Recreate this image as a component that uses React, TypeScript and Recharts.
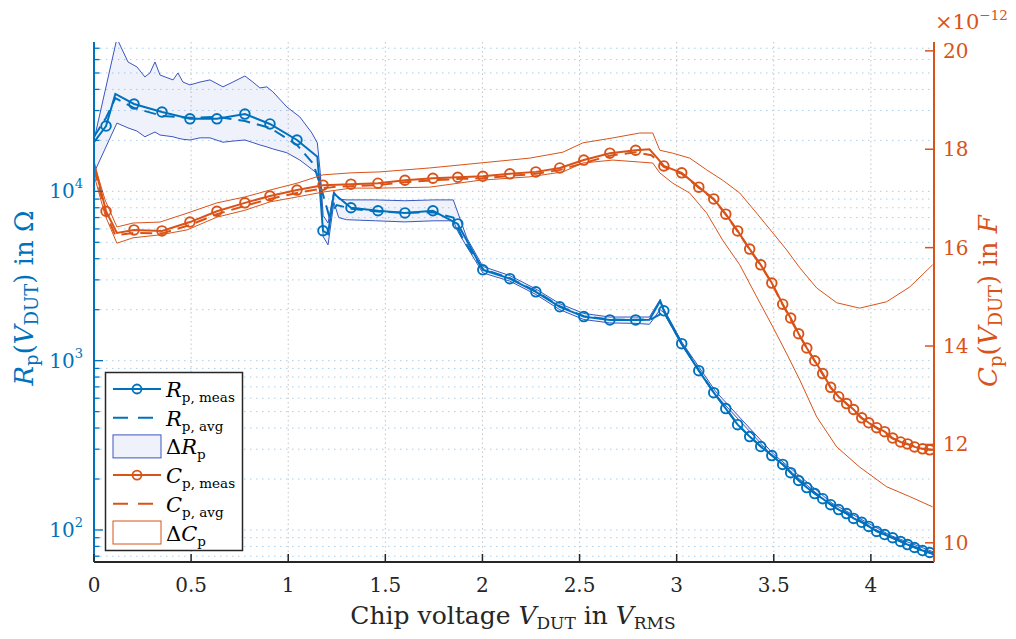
import { ComposedChart, Line, Area, XAxis, YAxis, CartesianGrid } from "recharts"

const BLUE = "#0072BD"
const ORANGE = "#D95319"
const BAND_BLUE = "#3a56c0"
const DARK = "#262626"
const FONT = "'DejaVu Serif', serif"

// axis ranges (x in V_RMS, Rp in ohm, Cp in pF)
const X_DOMAIN = [0, 4.325]
const RP_DOMAIN = [64.7, 76200]
const CP_DOMAIN = [9.61, 20.18]

const xTicks = [0, 0.5, 1, 1.5, 2, 2.5, 3, 3.5, 4]
const rpTicks = [
  70, 80, 90,
  100, 200, 300, 400, 500, 600, 700, 800, 900,
  1000, 2000, 3000, 4000, 5000, 6000, 7000, 8000, 9000,
  10000, 20000, 30000, 40000, 50000, 60000, 70000,
]
const cpTicks = [10, 12, 14, 16, 18, 20]

// measured points (markers)
const vMeas = [
  0.062, 0.206, 0.35, 0.494, 0.633, 0.777, 0.906, 1.045, 1.179, 1.323,
  1.462, 1.601, 1.745, 1.873, 2.002, 2.141, 2.275, 2.398, 2.522, 2.656,
  2.789, 2.934, 3.026, 3.114, 3.191, 3.253, 3.314, 3.376, 3.433, 3.49,
  3.546, 3.587, 3.628, 3.67, 3.711, 3.752, 3.793, 3.834, 3.875, 3.911,
  3.953, 3.989, 4.03, 4.071, 4.112, 4.153, 4.189, 4.225, 4.266, 4.303,
]
const rpMeas = [
  24300, 32800, 29400, 26800, 26800, 28600, 25000, 20100, 5850, 8000,
  7680, 7460, 7680, 6420, 3440, 3050, 2550, 2080, 1820, 1740,
  1740, 1970, 1260, 873, 647, 521, 419, 356, 311, 275,
  244, 218, 196, 178, 164, 153, 141, 132, 125, 117,
  111, 105, 98, 94, 90, 85.5, 82, 78.8, 75.6, 73.6,
]
const cpMeas = [
  16.74, 16.36, 16.34, 16.52, 16.74, 16.91, 17.05, 17.17, 17.27, 17.29,
  17.31, 17.37, 17.41, 17.43, 17.45, 17.5, 17.54, 17.62, 17.78, 17.92,
  17.98, 17.66, 17.52, 17.23, 16.99, 16.68, 16.34, 15.97, 15.65, 15.28,
  14.85, 14.57, 14.25, 13.96, 13.7, 13.44, 13.16, 12.97, 12.83, 12.71,
  12.54, 12.44, 12.34, 12.26, 12.13, 12.05, 12.01, 11.95, 11.91, 11.89,
]

// extra trace samples between markers
const rpTraceV = [0, 0.11, 1.15, 1.205, 1.235, 2.86, 2.915, 4.325]
const rpTrace = [19500, 37600, 16000, 5600, 9700, 1745, 2250, 72.5]
const cpTraceV = [0, 0.118, 2.86, 2.905, 4.325]
const cpTrace = [17.72, 16.3, 18.0, 17.8, 11.89]

// moving average
const vAvg = [
  0, 0.062, 0.11, 0.206, 0.35, 0.494, 0.633, 0.777, 0.906, 1.045,
  1.13, 1.18, 1.21, 1.25, 1.323, 1.462, 1.601, 1.745, 1.85, 1.9,
  2.002, 2.141, 2.275, 2.398, 2.522, 2.656, 2.789, 2.87, 2.934, 3.026,
  3.114, 3.191, 3.253, 3.314, 3.376, 3.433, 3.49, 3.546, 3.628, 3.711,
  3.793, 3.875, 3.953, 4.03, 4.112, 4.189, 4.266, 4.325,
]
const rpAvg = [
  21000, 27200, 35500, 31100, 27900, 27200, 27500, 26000, 23700, 18800,
  14500, 9500, 7200, 8300, 7900, 7600, 7480, 7520, 7000, 5200,
  3480, 3070, 2570, 2100, 1830, 1750, 1745, 1760, 1930, 1270,
  878, 650, 523, 421, 357, 312, 276, 245, 197, 165,
  142, 126, 112, 99, 90.5, 82.5, 76, 72.5,
]
const cpAvg = [
  17.6, 16.68, 16.25, 16.3, 16.29, 16.46, 16.68, 16.85, 16.99, 17.11,
  17.17, 17.21, 17.22, 17.24, 17.25, 17.27, 17.33, 17.37, 17.39, 17.4,
  17.41, 17.46, 17.5, 17.58, 17.72, 17.87, 17.94, 17.88, 17.64, 17.5,
  17.22, 16.98, 16.67, 16.33, 15.96, 15.64, 15.27, 14.84, 14.24, 13.69,
  13.15, 12.82, 12.53, 12.33, 12.12, 12.0, 11.91, 11.89,
]

// spread of Rp
const vRpBand = [
  0, 0.118, 0.175, 0.221, 0.262, 0.288, 0.314, 0.34, 0.407, 0.432,
  0.458, 0.494, 0.546, 0.597, 0.664, 0.715, 0.777, 0.818, 0.854, 0.89,
  0.921, 0.993, 1.06, 1.122, 1.15, 1.165, 1.18, 1.205, 1.235, 1.26,
  1.3, 1.45, 1.6, 1.75, 1.85, 1.873, 1.92, 2.002, 2.141, 2.275,
  2.398, 2.522, 2.656, 2.789, 2.86, 2.915, 2.934, 3.026, 3.2, 3.5,
  3.8, 4.1, 4.325,
]
const rpLow = [
  12850, 25300, 23700, 22700, 21000, 21700, 22400, 21500, 21000, 20600,
  20300, 20100, 20700, 20700, 19500, 19800, 20100, 19400, 18800, 18300,
  17800, 16900, 15300, 13500, 12700, 12600, 5400, 4830, 8600, 7000,
  6800, 6700, 6600, 6700, 6700, 5800, 4700, 3300, 2950, 2460,
  2000, 1750, 1670, 1660, 1640, 2000, 1920, 1230, 630, 268,
  138, 90, 71,
]
const rpHigh = [
  20100, 80000, 58100, 54300, 47400, 50000, 58100, 48600, 45500, 50000,
  44200, 42500, 44200, 45500, 41400, 44200, 48000, 44200, 40800, 41400,
  38700, 31500, 27500, 22100, 19300, 12900, 7200, 6500, 10000, 9000,
  8900, 8900, 8800, 8900, 8900, 7500, 5300, 3600, 3180, 2650,
  2170, 1900, 1810, 1810, 1810, 2300, 2020, 1290, 660, 280,
  144, 93, 74,
]

// spread of Cp
const vCpBand = [
  0, 0.057, 0.118, 0.201, 0.34, 0.479, 0.633, 0.777, 0.906, 1.045,
  1.179, 1.323, 1.472, 1.729, 1.987, 2.244, 2.414, 2.517, 2.671, 2.81,
  2.877, 2.913, 2.98, 3.067, 3.155, 3.237, 3.325, 3.412, 3.495, 3.567,
  3.634, 3.721, 3.824, 3.942, 4.081, 4.2, 4.318,
]
const cpHigh = [
  17.72, 16.97, 16.42, 16.5, 16.52, 16.7, 16.91, 17.03, 17.17, 17.31,
  17.48, 17.52, 17.54, 17.62, 17.72, 17.82, 17.94, 18.13, 18.23, 18.33,
  18.33, 17.98, 17.92, 17.82, 17.58, 17.37, 17.11, 16.7, 16.3, 15.95,
  15.59, 15.18, 14.88, 14.77, 14.9, 15.2, 15.65,
]
const cpLow = [
  17.48, 16.66, 16.09, 16.2, 16.26, 16.36, 16.62, 16.76, 16.93, 17.03,
  17.13, 17.21, 17.21, 17.23, 17.37, 17.44, 17.54, 17.72, 17.78, 17.74,
  17.72, 17.52, 17.31, 17.11, 16.7, 16.15, 15.65, 15.0, 14.39, 13.84,
  13.31, 12.56, 11.95, 11.54, 11.14, 10.94, 10.73,
]

const byV = (a: { v: number }, b: { v: number }) => a.v - b.v

const markerRows = vMeas.map((v, i) => ({ v, rp: rpMeas[i], cp: cpMeas[i] }))
const rpLineRows = [
  ...vMeas.map((v, i) => ({ v, rp: rpMeas[i] })),
  ...rpTraceV.map((v, i) => ({ v, rp: rpTrace[i] })),
].sort(byV)
const cpLineRows = [
  ...vMeas.map((v, i) => ({ v, cp: cpMeas[i] })),
  ...cpTraceV.map((v, i) => ({ v, cp: cpTrace[i] })),
].sort(byV)
const avgRows = vAvg.map((v, i) => ({ v, rp: rpAvg[i], cp: cpAvg[i] }))
const rpBandRows = vRpBand.map((v, i) => ({ v, range: [rpLow[i], rpHigh[i]] }))
const cpBandRows = vCpBand.map((v, i) => ({ v, lo: cpLow[i], hi: cpHigh[i] }))

const BottomTick = ({ x, y, payload }: any) => (
  <g>
    <line x1={x} x2={x} y1={y} y2={y - 8} stroke={DARK} strokeWidth={1.5} />
    <text x={x} y={y + 30} textAnchor="middle" fontFamily={FONT} fontSize={20} fill={DARK}>
      {String(payload.value)}
    </text>
  </g>
)

const TopTick = ({ x, y }: any) => (
  <line x1={x} x2={x} y1={y} y2={y + 8} stroke={DARK} strokeWidth={1.5} />
)

const RpTick = ({ x, y, payload }: any) => {
  const e = Math.log10(payload.value)
  const major = Math.abs(e - Math.round(e)) < 1e-6
  return (
    <g>
      <line x1={x} x2={x + (major ? 9 : 5.5)} y1={y} y2={y} stroke={BLUE} strokeWidth={1.3} />
      {major && (
        <text x={x - 11} y={y + 7} textAnchor="end" fontFamily={FONT} fontSize={20} fill={BLUE}>
          10<tspan fontSize={13} dy={-10}>{Math.round(e)}</tspan>
        </text>
      )}
    </g>
  )
}

const CpTick = ({ x, y, payload }: any) => (
  <g>
    <line x1={x} x2={x - 9} y1={y} y2={y} stroke={ORANGE} strokeWidth={1.5} />
    <text x={x + 9} y={y + 7} fontFamily={FONT} fontSize={20} fill={ORANGE}>
      {payload.value}
    </text>
  </g>
)

function Titles() {
  return (
    <g fontFamily={FONT}>
      <text x={505} y={616} textAnchor="middle" fontSize={25} fill={DARK}>
        {"Chip voltage "}
        <tspan fontStyle="italic">V</tspan>
        <tspan fontSize={17} dy={5}>DUT</tspan>
        <tspan dy={-5}>{" in "}</tspan>
        <tspan fontStyle="italic">V</tspan>
        <tspan fontSize={17} dy={5}>RMS</tspan>
      </text>
      <text x={25} y={290} transform="rotate(-90 25 290)" textAnchor="middle" fontSize={26} fill={BLUE}>
        <tspan fontStyle="italic">R</tspan>
        <tspan fontSize={18} dy={5}>p</tspan>
        <tspan dy={-5}>(</tspan>
        <tspan fontStyle="italic">V</tspan>
        <tspan fontSize={18} dy={5}>DUT</tspan>
        <tspan dy={-5}>{") in Ω"}</tspan>
      </text>
      <text x={989} y={293} transform="rotate(-90 989 293)" textAnchor="middle" fontSize={26} fill={ORANGE}>
        <tspan fontStyle="italic">C</tspan>
        <tspan fontSize={18} dy={5}>p</tspan>
        <tspan dy={-5}>(</tspan>
        <tspan fontStyle="italic">V</tspan>
        <tspan fontSize={18} dy={5}>DUT</tspan>
        <tspan dy={-5}>{") in "}</tspan>
        <tspan fontStyle="italic">F</tspan>
      </text>
      <text x={927} y={21} fontSize={21} fill={ORANGE}>
        ×10<tspan fontSize={13.5} dy={-9}>−12</tspan>
      </text>
    </g>
  )
}

function LegendBox() {
  const row = (i: number) => 381 + i * 28.7
  const label = (i: number, pre: string, sym: string, sub: string) => (
    <text x={158} y={row(i) + 8} fontSize={21} fill="#000">
      {pre}
      <tspan fontStyle="italic">{sym}</tspan>
      <tspan fontSize={13.5} dy={5}>{sub}</tspan>
    </text>
  )
  return (
    <g fontFamily={FONT}>
      <rect x={97.5} y={364.5} width={137} height={178} fill="#fff" stroke={DARK} strokeWidth={1.5} />
      <line x1={105} x2={153} y1={row(0)} y2={row(0)} stroke={BLUE} strokeWidth={2} />
      <circle cx={129} cy={row(0)} r={4.5} fill="none" stroke={BLUE} strokeWidth={1.8} />
      {label(0, "", "R", "p, meas")}
      <line x1={105} x2={153} y1={row(1)} y2={row(1)} stroke={BLUE} strokeWidth={2} strokeDasharray="15 10" />
      {label(1, "", "R", "p, avg")}
      <rect x={105} y={row(2) - 11.5} width={48} height={23} fill="#f0f2fb" stroke={BAND_BLUE} strokeWidth={1} />
      {label(2, "Δ", "R", "p")}
      <line x1={105} x2={153} y1={row(3)} y2={row(3)} stroke={ORANGE} strokeWidth={2} />
      <circle cx={129} cy={row(3)} r={4.5} fill="none" stroke={ORANGE} strokeWidth={1.8} />
      {label(3, "", "C", "p, meas")}
      <line x1={105} x2={153} y1={row(4)} y2={row(4)} stroke={ORANGE} strokeWidth={2} strokeDasharray="15 10" />
      {label(4, "", "C", "p, avg")}
      <rect x={105} y={row(5) - 11.5} width={48} height={23} fill="#fff" stroke={ORANGE} strokeWidth={1} />
      {label(5, "Δ", "C", "p")}
    </g>
  )
}

export default function App() {
  return (
    <div style={{ position: "relative", width: 1000, height: 625 }}>
      <ComposedChart width={1000} height={625} margin={{ top: 34, right: 0, bottom: 0, left: 0 }}>
        <CartesianGrid
          yAxisId="rp"
          vertical={false}
          horizontalValues={rpTicks}
          stroke="#a9cfe9"
          strokeDasharray="1.5 4.5"
          fill="none"
        />
        <CartesianGrid
          yAxisId="rp"
          horizontal={false}
          verticalValues={xTicks}
          stroke="#c4c4c4"
          strokeDasharray="1.5 3"
          fill="none"
        />
        <XAxis
          dataKey="v"
          type="number"
          domain={X_DOMAIN}
          allowDataOverflow
          ticks={xTicks}
          interval={0}
          height={71}
          tickSize={0}
          tickMargin={0}
          tick={BottomTick}
          axisLine={{ stroke: DARK, strokeWidth: 1.8 }}
        />
        <XAxis
          xAxisId="top"
          orientation="top"
          dataKey="v"
          type="number"
          domain={X_DOMAIN}
          allowDataOverflow
          ticks={xTicks}
          interval={0}
          height={0}
          tickSize={0}
          tickMargin={0}
          tick={TopTick}
          axisLine={{ stroke: DARK, strokeWidth: 1.8 }}
        />
        <YAxis
          yAxisId="rp"
          orientation="left"
          scale="log"
          type="number"
          domain={RP_DOMAIN}
          allowDataOverflow
          ticks={rpTicks}
          interval={0}
          width={86}
          tickSize={0}
          tickMargin={0}
          tick={RpTick}
          axisLine={{ stroke: BLUE, strokeWidth: 2 }}
        />
        <YAxis
          yAxisId="cp"
          orientation="right"
          type="number"
          domain={CP_DOMAIN}
          allowDataOverflow
          ticks={cpTicks}
          interval={0}
          width={74}
          tickSize={0}
          tickMargin={0}
          tick={CpTick}
          axisLine={{ stroke: ORANGE, strokeWidth: 2 }}
        />

        <Area
          yAxisId="rp"
          data={rpBandRows}
          dataKey="range"
          type="linear"
          stroke={BAND_BLUE}
          strokeWidth={1}
          fill="#3f5bd0"
          fillOpacity={0.08}
          isAnimationActive={false}
          activeDot={false}
        />
        <Line yAxisId="rp" data={rpLineRows} dataKey="rp" type="linear" stroke={BLUE} strokeWidth={2} dot={false} activeDot={false} isAnimationActive={false} />
        <Line yAxisId="rp" data={avgRows} dataKey="rp" type="linear" stroke={BLUE} strokeWidth={2} strokeDasharray="12 7" dot={false} activeDot={false} isAnimationActive={false} />
        <Line
          yAxisId="rp"
          data={markerRows}
          dataKey="rp"
          stroke="none"
          dot={{ r: 4.8, stroke: BLUE, strokeWidth: 1.9, fill: "none" }}
          activeDot={false}
          isAnimationActive={false}
        />

        <Line yAxisId="cp" data={cpBandRows} dataKey="hi" type="linear" stroke={ORANGE} strokeWidth={1} dot={false} activeDot={false} isAnimationActive={false} />
        <Line yAxisId="cp" data={cpBandRows} dataKey="lo" type="linear" stroke={ORANGE} strokeWidth={1} dot={false} activeDot={false} isAnimationActive={false} />
        <Line yAxisId="cp" data={cpLineRows} dataKey="cp" type="linear" stroke={ORANGE} strokeWidth={2} dot={false} activeDot={false} isAnimationActive={false} />
        <Line yAxisId="cp" data={avgRows} dataKey="cp" type="linear" stroke={ORANGE} strokeWidth={2} strokeDasharray="12 7" dot={false} activeDot={false} isAnimationActive={false} />
        <Line
          yAxisId="cp"
          data={markerRows}
          dataKey="cp"
          stroke="none"
          dot={{ r: 4.8, stroke: ORANGE, strokeWidth: 1.9, fill: "none" }}
          activeDot={false}
          isAnimationActive={false}
        />
      </ComposedChart>
      <svg
        width={1008}
        height={625}
        style={{ position: "absolute", left: 0, top: 0, overflow: "visible", pointerEvents: "none" }}
      >
        <Titles />
        <LegendBox />
      </svg>
    </div>
  )
}
